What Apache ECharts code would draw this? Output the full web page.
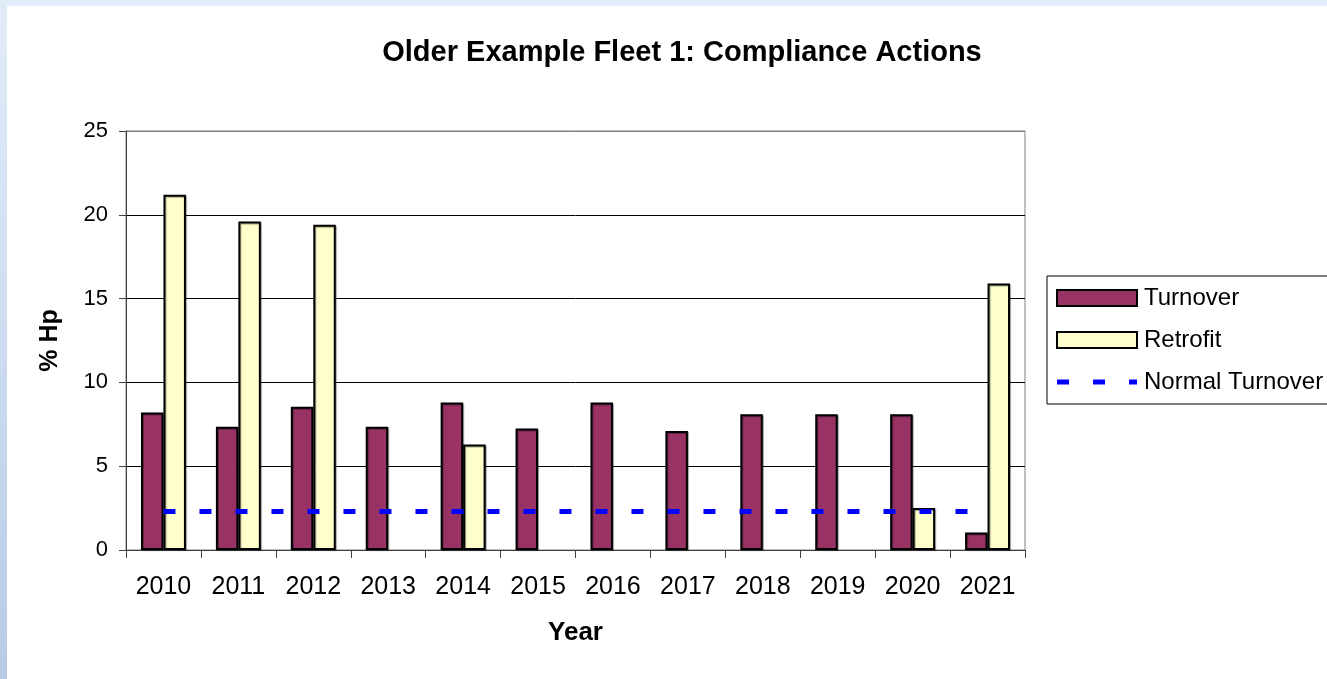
<!DOCTYPE html>
<html>
<head>
<meta charset="utf-8">
<script src="https://cdn.jsdelivr.net/npm/echarts@6/dist/echarts.min.js"></script>
<style>
  html, body {
    margin: 0;
    padding: 0;
    width: 1327px;
    height: 679px;
    overflow: hidden;
    background: linear-gradient(to bottom, #e2ecf9 0%, #c9d9ee 60%, #b7cbe5 100%);
  }
  #chart {
    width: 1327px;
    height: 679px;
  }
</style>
</head>
<body>
<div id="chart"></div>
<script>
// --- data ---
const years = ['2010', '2011', '2012', '2013', '2014', '2015', '2016', '2017', '2018', '2019', '2020', '2021'];
const turnover = [8.2, 7.35, 8.55, 7.35, 8.8, 7.25, 8.8, 7.1, 8.1, 8.1, 8.1, 1.05];
// years with no retrofit bar are left empty
const retrofit = [21.2, 19.6, 19.4, null, 6.3, null, null, null, null, null, 2.5, 15.9];
const normalTurnover = [2.3, 2.3, 2.3, 2.3, 2.3, 2.3, 2.3, 2.3, 2.3, 2.3, 2.3, 2.3];
const yTicks = { min: 0, max: 25, interval: 5 };

const COLORS = {
  turnover: '#993366',
  retrofit: '#ffffcc',
  normal: '#0000ff',
  grid: '#000000',
  frame: '#808080'
};

const FONT = 'Liberation Sans, Arial, sans-serif';

// three short dashes for the "Normal Turnover" legend swatch
const DASH_ICON = 'path://M0,0h12v5h-12zM36,0h12v5h-12zM72,0h8v5h-8z';

const chart = echarts.init(document.getElementById('chart'));

const barStyle = (fill) => ({
  color: fill,
  borderColor: '#000',
  borderWidth: 2,
  shadowColor: 'rgba(0,0,0,0.35)',
  shadowOffsetX: 1,
  shadowOffsetY: 1,
  shadowBlur: 1
});

const option = {
  backgroundColor: 'transparent',
  animation: false,
  textStyle: { fontFamily: FONT },
  // white panel over the bluish page background
  graphic: [{
    type: 'rect',
    left: 7,
    top: 6,
    shape: { width: 1320, height: 673 },
    style: { fill: '#ffffff' },
    z: -10
  }],
  title: {
    text: 'Older Example Fleet 1: Compliance Actions',
    left: 677,
    top: 33,
    textAlign: 'center',
    textStyle: {
      fontFamily: FONT,
      fontSize: 29,
      fontWeight: 'bold',
      color: '#000'
    }
  },
  legend: {
    orient: 'vertical',
    left: 1047,
    top: 276,
    itemWidth: 80,
    itemHeight: 16,
    itemGap: 18,
    padding: [10, 10, 10, 9],
    borderColor: '#000',
    borderWidth: 1,
    textStyle: {
      fontFamily: FONT,
      fontSize: 24,
      color: '#000',
      padding: [0, 0, 0, 2]
    },
    data: [
      { name: 'Turnover', icon: 'rect' },
      { name: 'Retrofit', icon: 'rect' },
      { name: 'Normal Turnover', icon: DASH_ICON, itemStyle: { color: COLORS.normal, borderWidth: 0 } }
    ]
  },
  grid: {
    left: 126,
    top: 131,
    right: 302,
    bottom: 129,
    show: true,
    borderColor: COLORS.frame,
    borderWidth: 1,
    backgroundColor: 'transparent'
  },
  xAxis: {
    type: 'category',
    data: years,
    name: 'Year',
    nameLocation: 'middle',
    nameGap: 70,
    nameTextStyle: {
      fontFamily: FONT,
      fontSize: 26,
      fontWeight: 'bold',
      color: '#000'
    },
    axisLine: { lineStyle: { color: '#404040', width: 1 } },
    axisTick: { show: true, alignWithLabel: false, length: 8, lineStyle: { color: '#404040' } },
    axisLabel: {
      fontFamily: FONT,
      fontSize: 25,
      color: '#000',
      margin: 25
    }
  },
  yAxis: {
    type: 'value',
    min: yTicks.min,
    max: yTicks.max,
    interval: yTicks.interval,
    name: '% Hp',
    nameLocation: 'middle',
    nameGap: 63,
    nameRotate: 90,
    nameTextStyle: {
      fontFamily: FONT,
      fontSize: 25,
      fontWeight: 'bold',
      color: '#000'
    },
    axisLine: { show: true, lineStyle: { color: '#404040', width: 1 } },
    axisTick: { show: true, length: 7, lineStyle: { color: '#404040' } },
    axisLabel: {
      fontFamily: FONT,
      fontSize: 22,
      color: '#000',
      margin: 18
    },
    splitLine: {
      show: true,
      lineStyle: {
        color: [COLORS.grid, COLORS.grid, COLORS.grid, COLORS.grid, COLORS.grid, COLORS.frame],
        width: 1
      }
    }
  },
  series: [
    {
      name: 'Turnover',
      type: 'bar',
      data: turnover,
      barGap: '0%',
      barCategoryGap: '40%',
      itemStyle: barStyle(COLORS.turnover)
    },
    {
      name: 'Retrofit',
      type: 'bar',
      data: retrofit,
      barGap: '0%',
      barCategoryGap: '40%',
      itemStyle: barStyle(COLORS.retrofit)
    },
    {
      name: 'Normal Turnover',
      type: 'line',
      data: normalTurnover,
      symbol: 'none',
      z: 5,
      lineStyle: {
        color: COLORS.normal,
        width: 5,
        type: [12, 24],
        cap: 'butt'
      },
      itemStyle: { color: COLORS.normal }
    }
  ]
};

chart.setOption(option);
</script>
</body>
</html>
